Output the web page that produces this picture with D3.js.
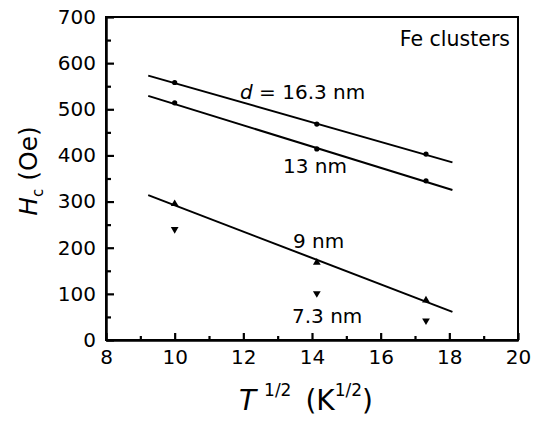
<!DOCTYPE html>
<html>
<head>
<meta charset="utf-8">
<script src="https://cdn.jsdelivr.net/npm/d3@7"></script>
<style>
  html, body { margin: 0; padding: 0; background: #fff; }
  svg { display: block; }
  text { font-family: "DejaVu Sans", sans-serif; fill: #000; }
</style>
</head>
<body>
<svg id="chart" width="539" height="422"></svg>
<script>
// Measurement temperatures expressed as T^(1/2): 100 K, 200 K, 300 K
const sqrtT = [10, 14.14, 17.32];

// Coercive field H_c (Oe) for each cluster size
const hc163 = [558, 468, 403];
const hc13  = [514, 414, 345];
const hc9   = [295, 168, 86];
const hc73  = [240, 101, 42];

// Linear fits: end points in T^(1/2) and H_c
const fitX     = [9.23, 18.09];
const fit163   = [573, 385];
const fit13    = [529, 325];
const fit9     = [314, 61];

// Axis ticks
const xMajor = [8, 10, 12, 14, 16, 18, 20];
const xMinor = [9, 11, 13, 15, 17, 19];
const yMajor = [0, 100, 200, 300, 400, 500, 600, 700];
const yMinor = [50, 150, 250, 350, 450, 550, 650];

const svg = d3.select("#chart");
const m = { left: 106, right: 518, top: 17, bottom: 340 };

const x = d3.scaleLinear().domain([8, 20]).range([m.left, m.right]);
const y = d3.scaleLinear().domain([0, 700]).range([m.bottom, m.top]);

// Frame
svg.append("rect")
  .attr("x", m.left).attr("y", m.top)
  .attr("width", m.right - m.left).attr("height", m.bottom - m.top)
  .attr("fill", "none").attr("stroke", "#000").attr("stroke-width", 2);

// Bottom axis (inward ticks)
const gx = svg.append("g").attr("transform", `translate(0,${m.bottom})`);
gx.call(d3.axisBottom(x).tickValues(xMajor).tickSizeInner(-7).tickSizeOuter(0)
  .tickPadding(14).tickFormat(d3.format("d")));
const gxm = svg.append("g").attr("transform", `translate(0,${m.bottom})`);
gxm.call(d3.axisBottom(x).tickValues(xMinor).tickSizeInner(-4).tickSizeOuter(0).tickFormat(""));

// Left axis (inward ticks)
const gy = svg.append("g").attr("transform", `translate(${m.left},0)`);
gy.call(d3.axisLeft(y).tickValues(yMajor).tickSizeInner(-8).tickSizeOuter(0)
  .tickPadding(10).tickFormat(d3.format("d")));
const gym = svg.append("g").attr("transform", `translate(${m.left},0)`);
gym.call(d3.axisLeft(y).tickValues(yMinor).tickSizeInner(-5).tickSizeOuter(0).tickFormat(""));

[gx, gxm, gy, gym].forEach(g => {
  g.select(".domain").attr("stroke", "#000").attr("stroke-width", 2);
  g.selectAll(".tick line").attr("stroke", "#000").attr("stroke-width", 2.2);
  g.selectAll(".tick text").style("font-family", "DejaVu Sans, sans-serif")
    .style("font-size", "20px").attr("fill", "#000");
});
gx.selectAll(".tick text").attr("dy", "0.5em");

// Fit lines
const line = d3.line().x(d => x(d[0])).y(d => y(d[1]));
[fit163, fit13, fit9].forEach(f => {
  svg.append("path")
    .attr("d", line(fitX.map((v, i) => [v, f[i]])))
    .attr("fill", "none").attr("stroke", "#000").attr("stroke-width", 2);
});

// Markers
const pts = (arr) => sqrtT.map((v, i) => [v, arr[i]]);
[hc163, hc13].forEach(s => {
  svg.append("g").selectAll("circle").data(pts(s)).join("circle")
    .attr("cx", d => x(d[0])).attr("cy", d => y(d[1])).attr("r", 2.6)
    .attr("fill", "#000");
});
const triUp = d3.symbol().type(d3.symbolTriangle).size(26);
svg.append("g").selectAll("path").data(pts(hc9)).join("path")
  .attr("d", triUp)
  .attr("transform", d => `translate(${x(d[0])},${y(d[1])})`)
  .attr("fill", "#000");
svg.append("g").selectAll("path").data(pts(hc73)).join("path")
  .attr("d", triUp)
  .attr("transform", d => `translate(${x(d[0])},${y(d[1])}) rotate(180)`)
  .attr("fill", "#000");

// Series labels
const lab = svg.append("g").style("font-size", "20px");
const t1 = lab.append("text").attr("x", 240).attr("y", 99);
t1.append("tspan").style("font-style", "italic").text("d");
t1.append("tspan").text(" = 16.3 nm");
lab.append("text").attr("x", 283).attr("y", 173).text("13 nm");
lab.append("text").attr("x", 293).attr("y", 248).text("9 nm");
lab.append("text").attr("x", 292).attr("y", 323).text("7.3 nm");

svg.append("text").attr("x", 510).attr("y", 46).attr("text-anchor", "end")
  .style("font-size", "20.5px").text("Fe clusters");

// Axis titles
const xt = svg.append("text").attr("x", 306).attr("y", 410)
  .attr("text-anchor", "middle").style("font-size", "28px");
xt.append("tspan").style("font-style", "italic").text("T");
xt.append("tspan").attr("dx", 8).attr("dy", -14).style("font-size", "17px").text("1/2");
xt.append("tspan").attr("dx", 14).attr("dy", 14).text("(K");
xt.append("tspan").attr("dy", -14).style("font-size", "17px").text("1/2");
xt.append("tspan").attr("dy", 14).text(")");

const yt = svg.append("text")
  .attr("transform", `translate(37,171) rotate(-90)`)
  .attr("text-anchor", "middle").style("font-size", "25px");
yt.append("tspan").style("font-style", "italic").text("H");
yt.append("tspan").attr("dy", 6).style("font-size", "15px").text("c");
yt.append("tspan").attr("dx", 8).attr("dy", -6).text("(Oe)");
</script>
</body>
</html>
